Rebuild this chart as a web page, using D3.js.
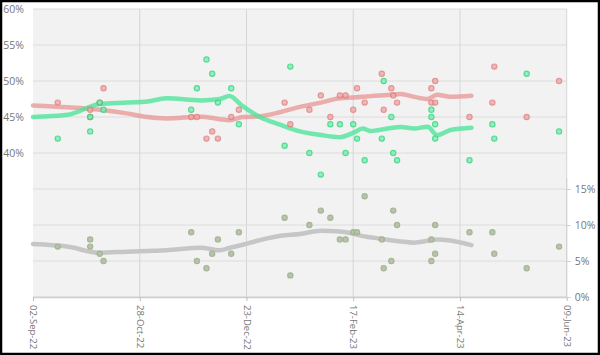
<!DOCTYPE html>
<html><head><meta charset="utf-8">
<script src="https://cdn.jsdelivr.net/npm/d3@7"></script>
<style>
html,body{margin:0;padding:0;background:#fff;}
svg{display:block;}
text{font-family:"Open Sans",sans-serif;}
</style></head>
<body>
<script>
// Poll data
const pollDates = ["2022-09-15","2022-10-02","2022-10-02","2022-10-07","2022-10-09","2022-11-24","2022-11-27","2022-12-02","2022-12-05","2022-12-08","2022-12-15","2022-12-19","2023-01-12","2023-01-15","2023-01-25","2023-01-31","2023-02-05","2023-02-10","2023-02-13","2023-02-17","2023-02-19","2023-02-23","2023-03-04","2023-03-05","2023-03-09","2023-03-10","2023-03-12","2023-03-30","2023-03-30","2023-04-01","2023-04-01","2023-04-19","2023-05-01","2023-05-02","2023-05-19","2023-06-05"];
const redPoll   = [47,46,45,47,49,45,45,42,43,42,45,46,47,44,46,48,45,48,48,46,49,47,51,46,49,48,47,49,47,50,47,45,47,52,45,50];
const greenPoll = [42,43,45,47,46,46,49,53,51,47,49,44,41,52,40,37,44,44,40,44,42,39,42,50,45,40,39,46,45,44,42,39,44,42,51,43];
const greyPoll  = [7,8,7,6,5,9,5,4,6,8,6,9,11,3,10,12,11,8,8,9,9,14,8,4,5,12,10,5,8,6,10,9,9,6,4,7];

// Trend lines
const trendDates = ["2022-09-02","2022-09-20","2022-10-07","2022-10-21","2022-11-01","2022-11-11","2022-11-29","2022-12-09","2022-12-14","2022-12-21","2022-12-30","2023-01-10","2023-01-20","2023-01-31","2023-02-10","2023-02-17","2023-02-22","2023-02-26","2023-03-07","2023-03-14","2023-03-21","2023-03-28","2023-04-02","2023-04-09","2023-04-20"];
const redTrend   = [46.6,46.35,46.0,45.5,45.0,44.8,45.05,44.7,44.55,45.0,45.1,45.7,46.4,47.0,47.6,47.7,47.8,47.9,48.05,48.2,47.8,47.5,48.1,47.8,47.95];
const greenTrend = [45.0,45.3,46.8,47.0,47.15,47.6,47.3,47.5,47.9,46.5,45.0,43.9,43.0,42.5,42.2,42.8,43.4,43.05,43.4,43.6,43.4,43.65,42.5,43.2,43.5];
const greyTrend  = [7.36,7.0,6.15,6.3,6.4,6.5,6.85,6.5,6.8,7.25,7.9,8.5,8.75,9.2,9.1,8.8,8.45,8.3,7.95,7.7,7.55,7.8,8.0,7.85,7.2];

const xTickDates = ["2022-09-02","2022-10-28","2022-12-23","2023-02-17","2023-04-14","2023-06-09"];
const leftTicks = [40,45,50,55,60];
const rightTicks = [0,5,10,15];
const gridTicks = [0,5,10,15,20,25,30,35,40];

const W=600,H=355;
const parse=d3.utcParse("%Y-%m-%d");
const fmt=d3.utcFormat("%d-%b-%y");
const L=33,R=566.7,T=9,B=297;

const svg=d3.select("body").append("svg").attr("width",W).attr("height",H);
svg.append("rect").attr("x",1).attr("y",1).attr("width",W-2).attr("height",H-2).attr("fill","#fff").attr("stroke","#000").attr("stroke-width",2.5);

const x=d3.scaleUtc().domain([parse(xTickDates[0]),parse(xTickDates[5])]).range([L,R]);
const yL=d3.scaleLinear().domain([20,60]).range([B,T]);
const yR=d3.scaleLinear().domain([0,40]).range([B,T]);

svg.append("rect").attr("x",L).attr("y",T).attr("width",R-L).attr("height",B-T).attr("fill","#f2f2f2");

// grid
const g=svg.append("g");
g.selectAll("line.h").data(gridTicks).join("line").attr("x1",L).attr("x2",R)
 .attr("y1",d=>yR(d)).attr("y2",d=>yR(d)).attr("stroke","#dcdcdc").attr("stroke-width",1);
g.selectAll("line.v").data(xTickDates.slice(1)).join("line")
 .attr("x1",d=>x(parse(d))).attr("x2",d=>x(parse(d))).attr("y1",T).attr("y2",B)
 .attr("stroke","#d6d6d6").attr("stroke-width",1);

// axes
const xAxis=svg.append("g").attr("transform",`translate(0,${B})`)
 .call(d3.axisBottom(x).tickValues(xTickDates.map(parse)).tickFormat(fmt).tickSize(4).tickSizeOuter(0));
xAxis.select(".domain").attr("stroke","#cfcfcf").attr("stroke-width",1.5);
xAxis.selectAll(".tick line").attr("stroke","#bdbdbd");
xAxis.selectAll("text").attr("fill","#777").attr("font-size",9.5)
 .attr("transform","rotate(90)").attr("text-anchor","start").attr("dy","0.35em").attr("x",8).attr("y",0);

const lAxis=svg.append("g").attr("transform",`translate(${L},0)`)
 .call(d3.axisLeft(yL).tickValues(leftTicks).tickFormat(d=>d+"%").tickSize(0));
lAxis.select(".domain").remove();
lAxis.selectAll("text").attr("fill","#777").attr("font-size",10.5).attr("x",-9);

const rAxis=svg.append("g").attr("transform",`translate(${R},0)`)
 .call(d3.axisRight(yR).tickValues(rightTicks).tickFormat(d=>d+"%").tickSize(4).tickSizeOuter(0));
rAxis.select(".domain").attr("stroke","#cfcfcf").attr("d",`M0,${yR(16.5)}V${B}`);
rAxis.selectAll(".tick line").attr("stroke","#cfcfcf");
rAxis.selectAll("text").attr("fill","#777").attr("font-size",10.5).attr("x",8);

// trend lines
const tDates=trendDates.map(parse);
function drawTrend(vals,scale,color,op){
  const line=d3.line().x((d,i)=>x(tDates[i])).y(d=>scale(d)).curve(d3.curveMonotoneX);
  svg.append("path").datum(vals).attr("d",line).attr("fill","none")
   .attr("stroke",color).attr("stroke-width",4.5).attr("stroke-opacity",op)
   .attr("stroke-linecap","round").attr("stroke-linejoin","round");
}
drawTrend(greyTrend,yR,"#c6c6c6",1);
drawTrend(redTrend,yL,"#e89a9a",0.8);
drawTrend(greenTrend,yL,"#4fe39a",0.8);

// points
const pDates=pollDates.map(parse);
function drawPts(vals,scale,fill,stroke,op){
  svg.append("g").selectAll("circle").data(vals).join("circle")
   .attr("cx",(d,i)=>x(pDates[i])).attr("cy",d=>scale(d)).attr("r",2.6)
   .attr("fill",fill).attr("stroke",stroke).attr("stroke-width",1.2).attr("opacity",op);
}
drawPts(greyPoll,yR,"#b4c2a6","#a3b394",0.95);
drawPts(redPoll,yL,"#f0a8a8","#e07f7f",0.8);
drawPts(greenPoll,yL,"#7eebb2","#2fd67f",0.8);
</script>
</body></html>
